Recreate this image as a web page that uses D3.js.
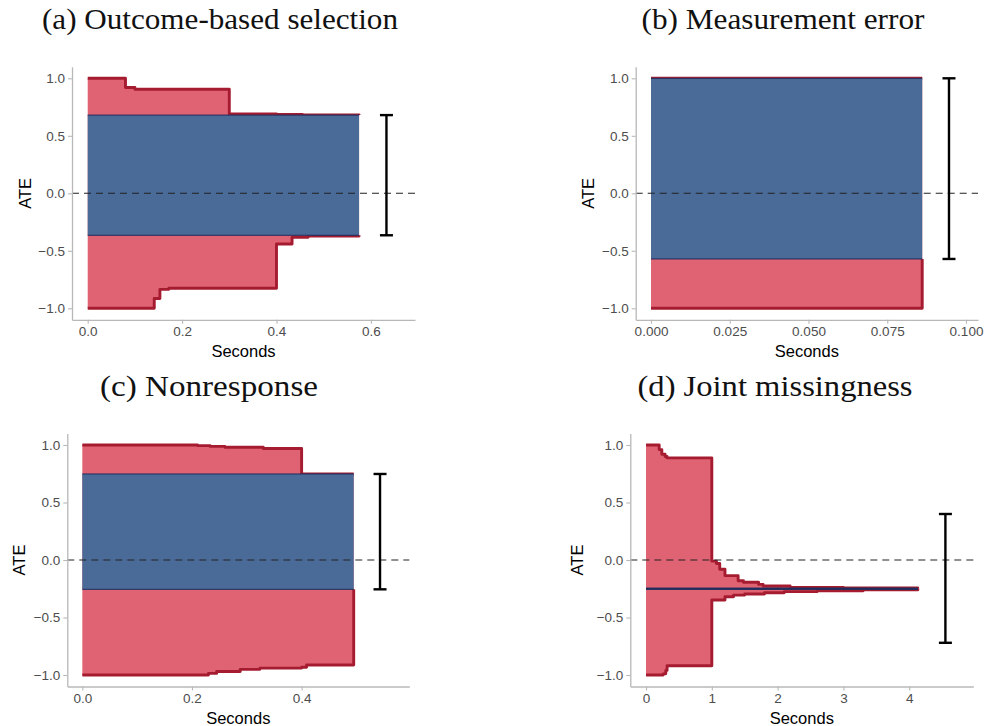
<!DOCTYPE html>
<html>
<head>
<meta charset="utf-8">
<script src="https://cdn.jsdelivr.net/npm/d3@7"></script>
<style>
  body { margin: 0; background: #fff; }
  svg { display: block; }
</style>
</head>
<body>
<div id="chart"></div>
<script>
// ---- data ----
var titles = ["(a) Outcome-based selection", "(b) Measurement error", "(c) Nonresponse", "(d) Joint missingness"];

// (a) outcome-based selection
var aUpperT = [0, 0.08, 0.10, 0.30, 0.40, 0.455, 0.575];
var aUpperV = [1.0, 0.92, 0.905, 0.69, 0.686, 0.682, 0.68];
var aLowerT = [0, 0.141, 0.153, 0.172, 0.40, 0.433, 0.467, 0.575];
var aLowerV = [-1.0, -0.915, -0.835, -0.826, -0.441, -0.383, -0.371, -0.365];
var aSet = [-0.365, 0.68];
var aBar = [0.633, -0.365, 0.68];

// (b) measurement error
var bUpperT = [0, 0.0861];
var bUpperV = [1.0, 1.0];
var bLowerT = [0, 0.0861];
var bLowerV = [-1.0, -0.571];
var bSet = [-0.571, 1.0];
var bBar = [0.0946, -0.571, 1.0];

// (c) nonresponse
var cUpperT = [0, 0.21, 0.233, 0.26, 0.33, 0.40, 0.495];
var cUpperV = [1.0, 0.995, 0.988, 0.98, 0.97, 0.748, 0.748];
var cLowerT = [0, 0.23, 0.245, 0.288, 0.324, 0.40, 0.409, 0.495];
var cLowerV = [-1.0, -0.986, -0.97, -0.951, -0.94, -0.932, -0.913, -0.255];
var cSet = [-0.255, 0.748];
var cBar = [0.543, -0.255, 0.748];

// (d) joint missingness
var dUpperT = [0, 0.2, 0.24, 0.29, 0.32, 1.0, 1.07, 1.12, 1.2, 1.4, 1.48, 1.71, 1.78, 2.19, 3.0, 4.13];
var dUpperV = [1.0, 0.96, 0.92, 0.9, 0.888, -0.01, -0.03, -0.08, -0.136, -0.18, -0.194, -0.212, -0.226, -0.238, -0.243, -0.25];
var dLowerT = [0, 0.26, 0.3, 0.32, 1.0, 1.2, 1.33, 1.5, 1.8, 2.1, 2.6, 3.3, 4.13];
var dLowerV = [-1.0, -0.99, -0.96, -0.92, -0.348, -0.319, -0.305, -0.295, -0.285, -0.275, -0.267, -0.26, -0.25];
var dSet = [-0.25, -0.25];
var dBar = [4.55, -0.72, 0.40];

var yTicks = [-1, -0.5, 0, 0.5, 1];
var xTicksA = [0, 0.2, 0.4, 0.6];
var xTicksB = [0, 0.025, 0.05, 0.075, 0.1];
var xTicksC = [0, 0.2, 0.4];
var xTicksD = [0, 1, 2, 3, 4];

// ---- layout ----
var W = 985, H = 726;
var redFill = "#e06373", redLine = "#a51c30", blueFill = "#4a6a98", navy = "#1f2d5c";

var panels = [
    {title: titles[0], tx: 220, ty: 29, x0: 72, x1: 415, y0: 66.8, y1: 319.8, xDom: [-0.0333, 0.6935], xTicks: xTicksA, fmt: ".1f", ateX: 25, tw: 356,
        upT: aUpperT, upV: aUpperV, loT: aLowerT, loV: aLowerV, set: aSet, bar: aBar},
    {title: titles[1], tx: 783, ty: 29, x0: 635.7, x1: 978, y0: 66.8, y1: 319.8, xDom: [-0.00486, 0.10381], xTicks: xTicksB, fmt: ".3f", ateX: 588, tw: 283,
        upT: bUpperT, upV: bUpperV, loT: bLowerT, loV: bLowerV, set: bSet, bar: bBar},
    {title: titles[2], tx: 209, ty: 396, x0: 67.3, x1: 409.3, y0: 433.5, y1: 686.5, xDom: [-0.0274, 0.5964], xTicks: xTicksC, fmt: ".1f", ateX: 19, tw: 218,
        upT: cUpperT, upV: cUpperV, loT: cLowerT, loV: cLowerV, set: cSet, bar: cBar},
    {title: titles[3], tx: 775, ty: 396, x0: 630.3, x1: 973.3, y0: 433.5, y1: 686.5, xDom: [-0.239, 4.974], xTicks: xTicksD, fmt: "d", ateX: 577, tw: 275,
        upT: dUpperT, upV: dUpperV, loT: dLowerT, loV: dLowerV, set: dSet, bar: dBar}
];

var svg = d3.select("#chart").append("svg")
    .attr("width", W)
    .attr("height", H);

// step lookup: last value at or before t
function stepAt(ts, vs, t) {
    var i = d3.bisectRight(ts, t) - 1;
    return vs[Math.max(0, i)];
}

function drawPanel(p) {
    var x = d3.scaleLinear().domain(p.xDom).range([p.x0, p.x1]);
    var y = d3.scaleLinear().domain([-1.1, 1.1]).range([p.y1, p.y0]);
    var g = svg.append("g");

    // title
    g.append("text")
        .attr("x", p.tx).attr("y", p.ty)
        .attr("text-anchor", "middle")
        .attr("textLength", p.tw)
        .attr("lengthAdjust", "spacingAndGlyphs")
        .style("font-family", "'Liberation Serif', serif")
        .style("font-size", "29px")
        .style("fill", "#111")
        .text(p.title);

    // red region between bounds
    var times = Array.from(new Set(p.upT.concat(p.loT))).sort(d3.ascending);
    var band = times.map(function(t) {
        return {t: t, lo: stepAt(p.loT, p.loV, t), hi: stepAt(p.upT, p.upV, t)};
    });
    var area = d3.area()
        .curve(d3.curveStepAfter)
        .x(function(d) { return x(d.t); })
        .y0(function(d) { return y(d.lo); })
        .y1(function(d) { return y(d.hi); });
    g.append("path")
        .datum(band)
        .attr("d", area)
        .style("fill", redFill);

    var line = d3.line()
        .curve(d3.curveStepAfter)
        .x(function(d) { return x(d[0]); })
        .y(function(d) { return y(d[1]); });
    [[p.upT, p.upV], [p.loT, p.loV]].forEach(function(b) {
        g.append("path")
            .datum(d3.zip(b[0], b[1]))
            .attr("d", line)
            .style("fill", "none")
            .style("stroke", redLine)
            .style("stroke-width", 2.9)
            .style("stroke-linejoin", "round");
    });

    // identified set
    var tEnd = d3.max(p.upT);
    if (p.set[1] > p.set[0]) {
        g.append("rect")
            .attr("x", x(0))
            .attr("y", y(p.set[1]))
            .attr("width", x(tEnd) - x(0))
            .attr("height", y(p.set[0]) - y(p.set[1]))
            .style("fill", blueFill);
    }
    p.set.forEach(function(v, i) {
        g.append("line")
            .attr("x1", x(0)).attr("x2", x(tEnd))
            .attr("y1", y(v)).attr("y2", y(v))
            .style("stroke", navy)
            .style("stroke-width", p.set[1] > p.set[0] ? 1 : 2);
    });

    // zero reference
    g.append("line")
        .attr("x1", p.x0).attr("x2", p.x1)
        .attr("y1", y(0)).attr("y2", y(0))
        .style("stroke", "#222")
        .style("stroke-width", 1.1)
        .style("stroke-dasharray", "7,5");

    // error bar
    var bx = x(p.bar[0]);
    g.append("line")
        .attr("x1", bx).attr("x2", bx)
        .attr("y1", y(p.bar[1])).attr("y2", y(p.bar[2]))
        .style("stroke", "#000").style("stroke-width", 2.4);
    [p.bar[1], p.bar[2]].forEach(function(v) {
        g.append("line")
            .attr("x1", bx - 6.5).attr("x2", bx + 6.5)
            .attr("y1", y(v)).attr("y2", y(v))
            .style("stroke", "#000").style("stroke-width", 2.4);
    });

    // axes
    var xAxis = d3.axisBottom(x).tickValues(p.xTicks).tickFormat(d3.format(p.fmt)).tickSizeInner(4).tickSizeOuter(0).tickPadding(3);
    var yAxis = d3.axisLeft(y).tickValues(yTicks).tickFormat(d3.format(".1f")).tickSizeInner(4).tickSizeOuter(0).tickPadding(3);
    var gx = g.append("g").attr("transform", "translate(0," + p.y1 + ")").call(xAxis);
    var gy = g.append("g").attr("transform", "translate(" + p.x0 + ",0)").call(yAxis);
    [gx, gy].forEach(function(a) {
        a.select(".domain").style("stroke", "#b8b8b8").style("stroke-width", 1.3);
        a.selectAll(".tick line").style("stroke", "#b8b8b8").style("stroke-width", 1.1);
        a.selectAll(".tick text")
            .style("font-family", "'Liberation Sans', Arial, sans-serif")
            .style("font-size", "13.5px")
            .style("fill", "#4d4d4d");
    });

    g.append("text")
        .attr("x", (p.x0 + p.x1) / 2)
        .attr("y", p.y1 + 37)
        .attr("text-anchor", "middle")
        .style("font-family", "'Liberation Sans', Arial, sans-serif")
        .style("font-size", "16.5px")
        .text("Seconds");
    g.append("text")
        .attr("transform", "translate(" + (p.ateX + 6) + "," + y(0) + ") rotate(-90)")
        .attr("text-anchor", "middle")
        .style("font-family", "'Liberation Sans', Arial, sans-serif")
        .style("font-size", "16.5px")
        .text("ATE");
}

panels.forEach(drawPanel);
</script>
</body>
</html>
